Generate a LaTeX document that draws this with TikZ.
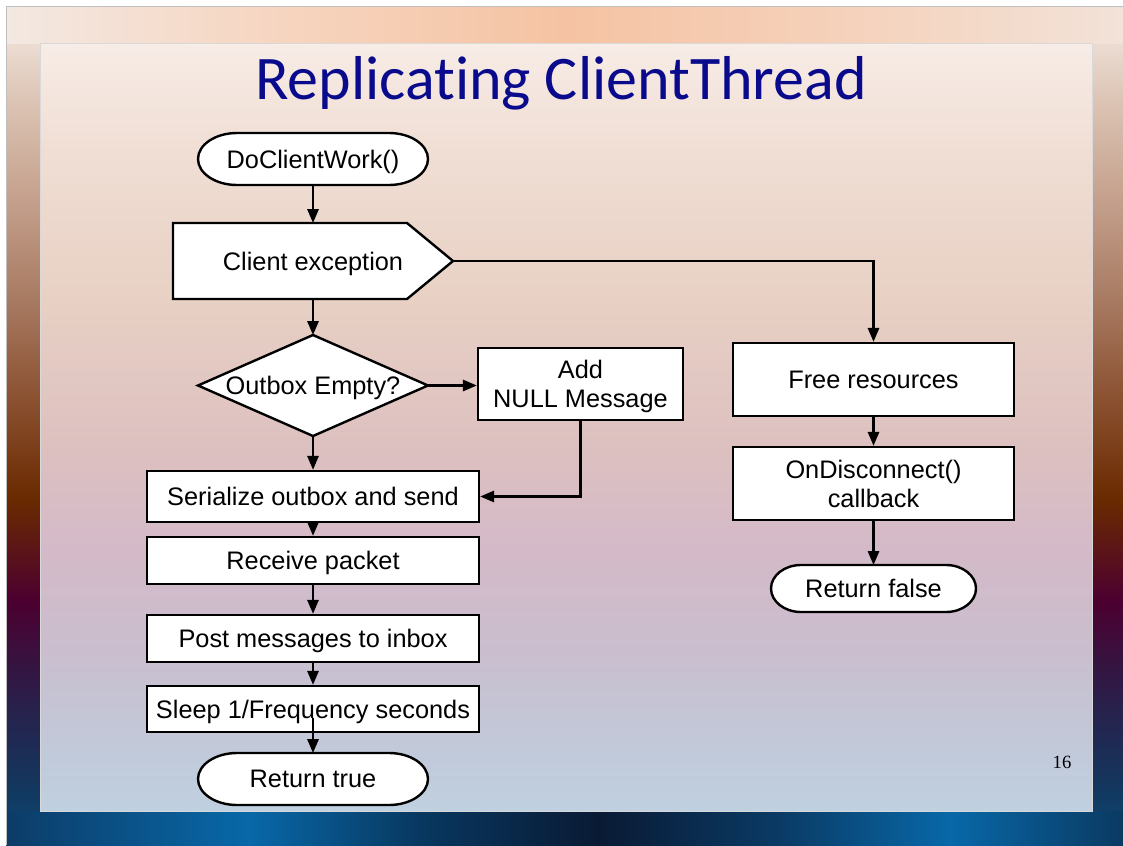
\documentclass[tikz,border=0pt]{standalone}
\usepackage{fontspec}
\setmainfont{Liberation Sans}
\newfontfamily\titlefont[Ligatures=NoCommon]{Carlito}
\newfontfamily\numfont{Liberation Serif}
\usetikzlibrary{arrows.meta,calc}
\newcommand{\boxfont}{\fontsize{19pt}{21.75pt}\selectfont}

%slide colours
\definecolor{titleblue}{RGB}{10,10,140}
\definecolor{outA}{HTML}{0A4A78}
\definecolor{outB}{HTML}{12385F}
\definecolor{outC}{HTML}{2A1F4A}
\definecolor{outD}{HTML}{4C0030}
\definecolor{outE}{HTML}{6A2A00}
\definecolor{outF}{HTML}{8A5030}
\definecolor{outG}{HTML}{A87A62}
\definecolor{outH}{HTML}{C4A08C}
\definecolor{outI}{HTML}{DCC4B4}
\definecolor{outJ}{HTML}{F5EBE5}
\definecolor{inA}{HTML}{BFD0E0}
\definecolor{inB}{HTML}{C2C8D8}
\definecolor{inC}{HTML}{CABECE}
\definecolor{inD}{HTML}{D4BAC8}
\definecolor{inE}{HTML}{DCC0C0}
\definecolor{inF}{HTML}{E8D0C4}
\definecolor{inG}{HTML}{F0DED4}
\definecolor{inH}{HTML}{F7ECE6}
\definecolor{topA}{HTML}{F3E8E2}
\definecolor{topB}{HTML}{F6D4BE}
\definecolor{topC}{HTML}{F5C3A3}
\definecolor{topD}{HTML}{F5D2BC}
\definecolor{topE}{HTML}{F2E2D8}
\definecolor{botA}{HTML}{0C3C68}
\definecolor{botB}{HTML}{0868A8}
\definecolor{botC}{HTML}{083860}
\definecolor{botD}{HTML}{0A1A34}
\definecolor{botE}{HTML}{0A3A64}
\definecolor{botF}{HTML}{0868A8}
\definecolor{botG}{HTML}{0A3A62}

\pgfdeclareverticalshading{outerside}{100bp}{color(0bp)=(outA); color(25bp)=(outA);
  color(28.3bp)=(outB); color(33.6bp)=(outC); color(39.6bp)=(outD); color(45.6bp)=(outE);
  color(51.5bp)=(outF); color(57.5bp)=(outG); color(63.5bp)=(outH); color(69.4bp)=(outI);
  color(75bp)=(outJ); color(100bp)=(outJ)}
\pgfdeclareverticalshading{innerpanel}{100bp}{color(0bp)=(inA); color(25bp)=(inA);
  color(29.6bp)=(inB); color(35.5bp)=(inC); color(42bp)=(inD); color(48.5bp)=(inE);
  color(58.3bp)=(inF); color(68bp)=(inG); color(75bp)=(inH); color(100bp)=(inH)}
\pgfdeclarehorizontalshading{topband}{100bp}{color(0bp)=(topA); color(25bp)=(topA);
  color(38bp)=(topB); color(50bp)=(topC); color(63bp)=(topD); color(75bp)=(topE); color(100bp)=(topE)}
\pgfdeclarehorizontalshading{bottomband}{100bp}{color(0bp)=(botA); color(25bp)=(botA);
  color(35.9bp)=(botB); color(43.5bp)=(botC); color(51.5bp)=(botD); color(59.5bp)=(botE);
  color(67.25bp)=(botF); color(75bp)=(botG); color(100bp)=(botG)}

\pgfdeclarelayer{bg}
\pgfdeclarelayer{shapes}
\pgfsetlayers{bg,shapes,main}

\begin{document}
\begin{tikzpicture}[x=0.75pt,y=-0.75pt,
  box/.style={draw,fill=white,line width=1.8pt,inner sep=2pt,text depth=0pt,align=center,font=\boxfont},
  plain/.style={inner sep=2pt,outer sep=0pt,text depth=0pt,align=center,font=\boxfont},
  shapeline/.style={draw,fill=white,line width=1.8pt},
  arr/.style={line width=1.6pt,-{Triangle[length=10.5pt,width=8.5pt]}}]
\useasboundingbox (0,0) rectangle (1123,845);
%slide background
\begin{pgfonlayer}{bg}
\fill[white] (0,0) rectangle (1123,845);
\shade[shading=outerside] (6,7) rectangle (1123,845);
\shade[shading=topband] (6,7) rectangle (1123,44);
\shade[shading=bottomband] (6,811) rectangle (1123,845);
\draw[black!25,line width=0.75pt] (6,845) -- (6,7) -- (1123,7);
\shade[shading=innerpanel] (40,44) rectangle (1092,811);
\draw[black!15,line width=0.75pt] (40,44) rectangle (1092,811);
\end{pgfonlayer}

%title and page number
\node[font=\titlefont\fontsize{46.5pt}{50pt}\selectfont,text=titleblue,anchor=base] (title) at (561,100) {Replicating ClientThread};
\node[font=\numfont\fontsize{14pt}{16pt}\selectfont,anchor=base] (pagenum) at (1062,768) {16};

%left column
\node[plain,minimum width=172.5pt,minimum height=39pt] (start) at (313,159) {DoClientWork()};
\node[plain,minimum width=210pt,minimum height=57pt] (exc) at (313,261) {Client exception};
\node[plain,minimum width=172.5pt,minimum height=75.75pt] (empty) at (313,385.5) {Outbox Empty?};
\node[box,minimum width=153.75pt,minimum height=54pt] (addnull) at (580.5,384) {Add\\NULL Message};
\node[box,minimum width=249pt,minimum height=38.25pt] (serial) at (313,496.5) {Serialize outbox and send};
\node[box,minimum width=249pt,minimum height=35.25pt] (recv) at (313,560.5) {Receive packet};
\node[box,minimum width=249pt,minimum height=35.25pt] (post) at (313,638.5) {Post messages to inbox};
\node[box,minimum width=249pt,minimum height=34.5pt] (sleep) at (313,709) {Sleep 1/Frequency seconds};
\node[plain,minimum width=172.5pt,minimum height=39pt] (rtrue) at (313,779) {Return true};
%right column
\node[box,minimum width=210.75pt,minimum height=54.75pt] (free) at (873.5,379.5) {Free resources};
\node[box,minimum width=210.75pt,minimum height=54.75pt] (discon) at (873.5,483.5) {OnDisconnect()\\callback};
\node[plain,minimum width=153.75pt,minimum height=35.25pt] (rfalse) at (873.5,588.5) {Return false};

%outlines of the terminals, the exception pentagon and the decision
\begin{pgfonlayer}{shapes}
\foreach \n/\r/\h in {start/29.25/19.5,rtrue/29.25/19.5,rfalse/22.5/17.625}
  \draw[shapeline] ([xshift=\r pt]\n.north west) -- ([xshift=-\r pt]\n.north east)
    arc[start angle=90,end angle=-90,x radius=\r pt,y radius=\h pt]
    -- ([xshift=\r pt]\n.south west)
    arc[start angle=270,end angle=90,x radius=\r pt,y radius=\h pt] -- cycle;
\draw[shapeline] (exc.north west) -- ([xshift=-34.5pt]exc.north east) -- (exc.east)
  -- ([xshift=-34.5pt]exc.south east) -- (exc.south west) -- cycle;
\draw[shapeline] (empty.north) -- (empty.east) -- (empty.south) -- (empty.west) -- cycle;
\end{pgfonlayer}

%connectors
\draw[arr] (start) -- (exc);
\draw[arr] (exc) -- (empty);
\draw[arr] (empty.east) -- (addnull.west |- empty.east);
\draw[arr] (addnull.south) |- (serial.east);
\draw[arr] (empty.south) -- (serial.north);
\draw[arr] (serial) -- (recv);
\draw[arr] (recv) -- (post);
\draw[arr] (post) -- (sleep);
\draw[arr] (sleep.base) -- (rtrue.north);
\draw[arr] (exc.east) -| (free.north);
\draw[arr] (free) -- (discon);
\draw[arr] (discon) -- (rfalse);
\end{tikzpicture}
\end{document}
